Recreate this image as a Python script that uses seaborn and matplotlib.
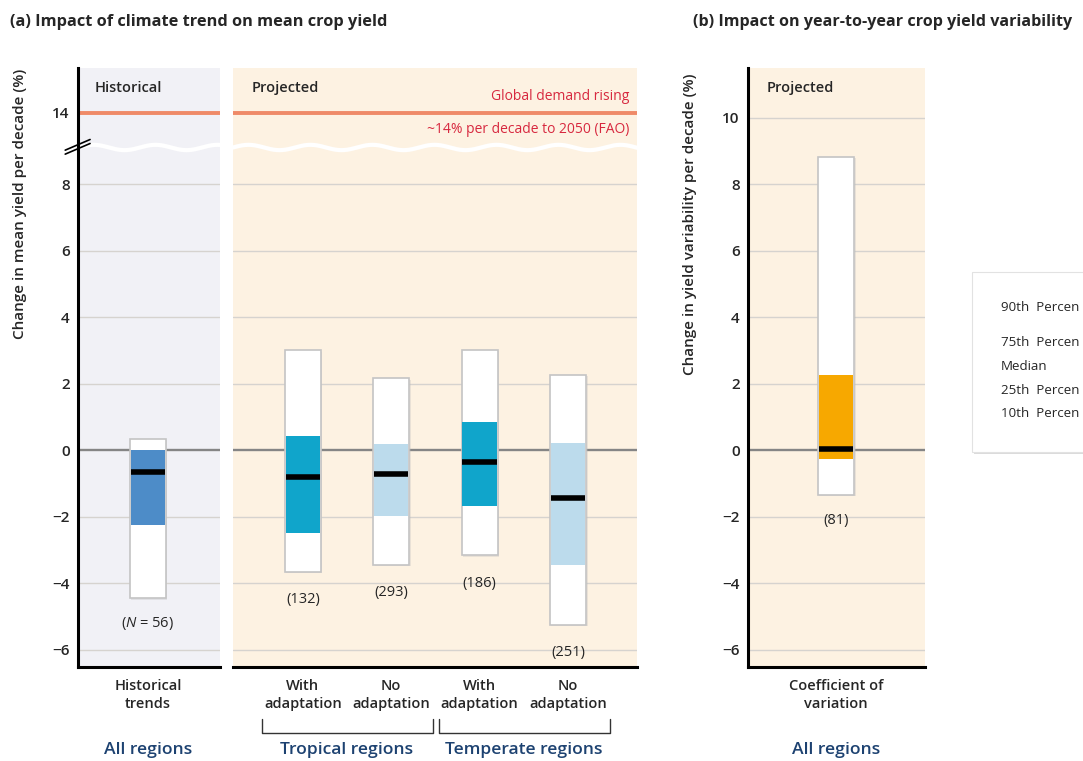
import numpy as np
import pandas as pd
import matplotlib.pyplot as plt
import matplotlib.transforms as mtransforms
import matplotlib.patheffects as pe
from matplotlib.patches import Rectangle
import seaborn as sns

# ---- data: percentiles (% per decade) ----
hist_keys = ["hist"]
hist_ticklabels = ["Historical\ntrends"]
hist_p10 = [-4.45]
hist_p25 = [-2.25]
hist_med = [-0.65]
hist_p75 = [0.00]
hist_p90 = [0.35]
hist_n = [56]

proj_keys = ["trop_with", "trop_no", "temp_with", "temp_no"]
proj_ticklabels = ["With\nadaptation", "No\nadaptation", "With\nadaptation", "No\nadaptation"]
proj_p10 = [-3.66, -3.44, -3.16, -5.26]
proj_p25 = [-2.50, -1.98, -1.68, -3.44]
proj_med = [-0.81, -0.72, -0.36, -1.44]
proj_p75 = [0.44, 0.19, 0.85, 0.22]
proj_p90 = [3.00, 2.16, 3.02, 2.27]
proj_n = [132, 293, 186, 251]

var_keys = ["cv"]
var_ticklabels = ["Coefficient of\nvariation"]
var_p10 = [-1.35]
var_p25 = [-0.26]
var_med = [0.02]
var_p75 = [2.25]
var_p90 = [8.82]
var_n = [81]

demand_rise = 14  # FAO, % per decade to 2050

# legend entries as far as they are visible before the right edge
legend_labels = ["90th  Percen", "75th  Percen", "Median", "25th  Percen", "10th  Percen"]

# ---- style ----
sns.set_style("white")
plt.rcParams["font.family"] = ["Open Sans", "DejaVu Sans"]
plt.rcParams["mathtext.fontset"] = "custom"
plt.rcParams["mathtext.it"] = "Open Sans:italic"
plt.rcParams["mathtext.rm"] = "Open Sans"

W, H = 1083, 761
BAR_W = 0.41
BREAK_SHIFT = 3.85   # values above the axis break are drawn this much lower
WAVE_Y = 9.1
YLIM = (-6.52, 11.49)
GRID_C = "#d6d3cf"
NAVY = "#1d4271"
BG_HIST = "#f1f1f6"
BG_PROJ = "#fdf2e2"

fig = plt.figure(figsize=(W / 100, H / 100), dpi=100)
ax_h = fig.add_axes([78 / W, 1 - 667 / H, 142 / W, 599 / H])
ax_p = fig.add_axes([233 / W, 1 - 667 / H, 404 / W, 599 / H])
ax_b = fig.add_axes([748 / W, 1 - 667 / H, 177 / W, 599 / H])


def draw_ranges(ax, keys, p10, p25, med, p75, p90, colors):
    df = pd.DataFrame({"key": keys, "p10": p10, "p25": p25, "med": med,
                       "p75": p75, "p90": p90})
    df["outer"] = df["p90"] - df["p10"]
    df["inner"] = df["p75"] - df["p25"]
    sns.barplot(data=df, x="key", y="outer", bottom=df["p10"].to_numpy(),
                width=BAR_W, color="white", saturation=1, edgecolor="#c4c4c4",
                linewidth=1.2, errorbar=None, ax=ax, zorder=3,
                path_effects=[pe.withSimplePatchShadow(offset=(1, -1),
                                                       shadow_rgbFace="#bbbbbb",
                                                       alpha=0.3)])
    sns.barplot(data=df, x="key", y="inner", bottom=df["p25"].to_numpy(),
                width=BAR_W * 0.95, color=colors[0], facecolor=colors, saturation=1,
                linewidth=0, errorbar=None, ax=ax, zorder=4)
    xs = np.arange(len(df))
    ax.hlines(df["med"], xs - BAR_W / 2 + 0.01, xs + BAR_W / 2 - 0.01,
              color="black", lw=4, zorder=5)
    ax.set_xlabel("")
    ax.set_ylabel("")


def style_axis(ax, bg, xlim, ticklabels, left_spine):
    ax.set_facecolor(bg)
    ax.set_xlim(*xlim)
    ax.set_ylim(*YLIM)
    for s in ["top", "right"]:
        ax.spines[s].set_visible(False)
    ax.spines["left"].set_visible(left_spine)
    ax.spines["left"].set_linewidth(2.2)
    ax.spines["bottom"].set_linewidth(2.2)
    ax.spines["left"].set_color("black")
    ax.spines["bottom"].set_color("black")
    ax.set_xticks(np.arange(len(ticklabels)))
    ax.set_xticklabels(ticklabels, fontsize=10.5, fontweight="semibold", linespacing=1.3)
    ax.tick_params(axis="x", length=5, width=1.6, color="black", pad=4, direction="out")
    ax.tick_params(axis="y", length=0, pad=6, labelsize=11)
    for lab in ax.get_yticklabels():
        lab.set_fontweight("semibold")
    ax.axhline(0, color="#858585", lw=1.7, zorder=2)


# ---- panel (a) ----
draw_ranges(ax_h, hist_keys, hist_p10, hist_p25, hist_med, hist_p75, hist_p90,
            ["#4d8cc8"])
draw_ranges(ax_p, proj_keys, proj_p10, proj_p25, proj_med, proj_p75, proj_p90,
            ["#10a5cb", "#bcdbec", "#10a5cb", "#bcdbec"])
low_ticks = [-6, -4, -2, 0, 2, 4, 6, 8]
ax_h.set_yticks(low_ticks + [demand_rise - BREAK_SHIFT])
ax_h.set_yticklabels([f"{t}".replace("-", "\u2212") for t in low_ticks] + [str(demand_rise)])
style_axis(ax_h, BG_HIST, (-0.795, 0.818), hist_ticklabels, True)
style_axis(ax_p, BG_PROJ, (-0.79, 3.78), proj_ticklabels, False)
ax_p.tick_params(axis="y", left=False, labelleft=False)

for ax in (ax_h, ax_p):
    for g in low_ticks:
        if g != 0:
            ax.axhline(g, color=GRID_C, lw=1, zorder=1)
    ax.axhline(demand_rise - BREAK_SHIFT, color="#ef8a68", lw=2.8, zorder=2)
    # wavy axis break
    wpx = ax.get_position().width * W
    t = np.linspace(0, 1, 400)
    ax.plot(t, WAVE_Y + 0.08 * np.sin(2 * np.pi * t * wpx / 62),
            transform=ax.get_yaxis_transform(), color="white", lw=3, zorder=2.5)

# break marks on the left spine
for dy in (0.0, 0.12):
    ax_h.plot([-0.09, 0.085], [WAVE_Y - 0.2 + dy, WAVE_Y + 0.12 + dy],
              transform=ax_h.get_yaxis_transform(), color="black", lw=1.2,
              clip_on=False, zorder=6)

ax_h.text(0.12, 0.967, "Historical", transform=ax_h.transAxes, fontsize=10.5,
          fontweight="semibold", va="center")
ax_p.text(0.047, 0.967, "Projected", transform=ax_p.transAxes, fontsize=10.5,
          fontweight="semibold", va="center")
ax_p.text(0.98, demand_rise - BREAK_SHIFT + 0.47, "Global demand rising",
          transform=ax_p.get_yaxis_transform(), ha="right", va="center",
          fontsize=10, color="#d7283f")
ax_p.text(0.98, demand_rise - BREAK_SHIFT - 0.5, "~14% per decade to 2050 (FAO)",
          transform=ax_p.get_yaxis_transform(), ha="right", va="center",
          fontsize=10, color="#d7283f")

# sample sizes
ax_h.annotate(r"($\it{N}$ = " + f"{hist_n[0]})", (0, hist_p10[0]), xytext=(0, -18),
              textcoords="offset points", ha="center", va="center", fontsize=10.5)
for i, n in enumerate(proj_n):
    ax_p.annotate(f"({n})", (i, proj_p10[i]), xytext=(0, -20),
                  textcoords="offset points", ha="center", va="center", fontsize=10.5)

# ---- panel (b) ----
draw_ranges(ax_b, var_keys, var_p10, var_p25, var_med, var_p75, var_p90, ["#f7a800"])
b_ticks = [-6, -4, -2, 0, 2, 4, 6, 8, 10]
ax_b.set_yticks(b_ticks)
ax_b.set_yticklabels([f"{t}".replace("-", "\u2212") for t in b_ticks])
style_axis(ax_b, BG_PROJ, (-1.0, 1.01), var_ticklabels, True)
for g in b_ticks:
    if g != 0:
        ax_b.axhline(g, color=GRID_C, lw=1, zorder=1)
ax_b.text(0.107, 0.967, "Projected", transform=ax_b.transAxes, fontsize=10.5,
          fontweight="semibold", va="center")
ax_b.annotate(f"({var_n[0]})", (0, var_p10[0]), xytext=(0, -18),
              textcoords="offset points", ha="center", va="center", fontsize=10.5)

# ---- titles, axis labels, group labels ----
fig.text(10 / W, 1 - 22 / H, "(a) Impact of climate trend on mean crop yield",
         fontsize=11.8, fontweight="bold", va="center")
fig.text(693 / W, 1 - 22 / H, "(b) Impact on year-to-year crop yield variability",
         fontsize=11.6, fontweight="bold", va="center")
fig.text(20 / W, 1 - 204 / H, "Change in mean yield per decade (%)", rotation=90,
         ha="center", va="center", fontsize=11, fontweight="semibold")
fig.text(690 / W, 1 - 224 / H, "Change in yield variability per decade (%)", rotation=90,
         ha="center", va="center", fontsize=11, fontweight="semibold")

gy = 1 - 750 / H
for ax, xc, lab in [(ax_h, 0, "All regions"), (ax_p, 0.5, "Tropical regions"),
                    (ax_p, 2.5, "Temperate regions"), (ax_b, 0, "All regions")]:
    tr = mtransforms.blended_transform_factory(ax.transData, fig.transFigure)
    ax.text(xc, gy, lab, transform=tr, ha="center", va="center", fontsize=12.6,
            fontweight="semibold", color=NAVY)

# brackets under the adaptation pairs
tr = mtransforms.blended_transform_factory(ax_p.transData, fig.transFigure)
yt, yb = 1 - 719 / H, 1 - 733 / H
for a, b in [(0, 1), (2, 3)]:
    ax_p.plot([a - 0.46, a - 0.46, b + 0.47, b + 0.47], [yt, yb, yb, yt],
              transform=tr, color="#333333", lw=1, clip_on=False)

# ---- legend box (cut at the right edge) ----
box = Rectangle((972 / W, 1 - 452 / H), 0.2, 180 / H, transform=fig.transFigure,
                facecolor="white", edgecolor="#e2e2e2", lw=0.8, zorder=10,
                path_effects=[pe.withSimplePatchShadow(offset=(1.5, -1.5),
                                                       shadow_rgbFace="#999999",
                                                       alpha=0.35)])
fig.patches.append(box)
for lab, ypx in zip(legend_labels, [307, 342, 366, 391, 414]):
    fig.text(1001 / W, 1 - ypx / H, lab, fontsize=9.6, va="center", zorder=11)

fig.savefig("out.png", dpi=100)
